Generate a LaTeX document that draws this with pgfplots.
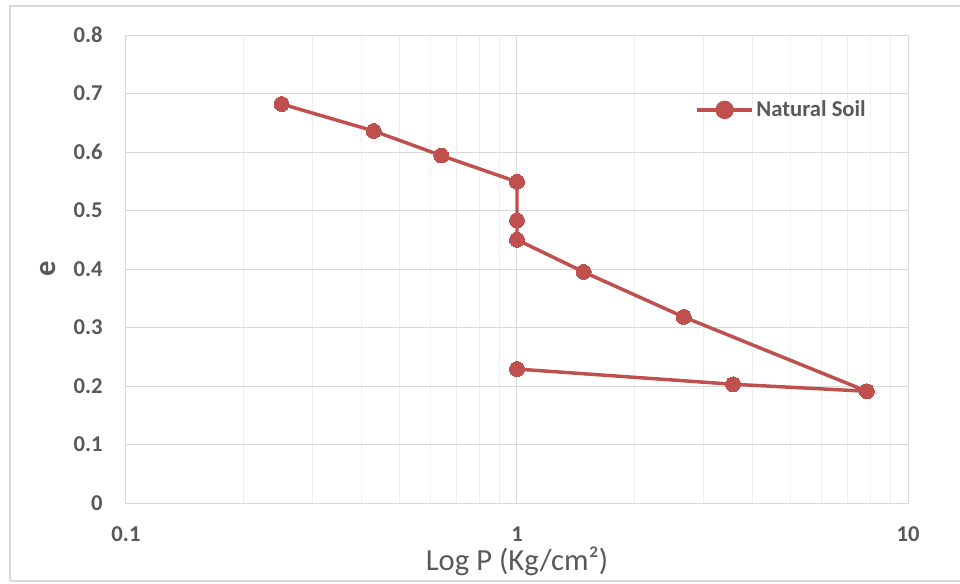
\documentclass[border=0pt]{standalone}
\usepackage{pgfplots}
\pgfplotsset{compat=1.18}
\usepackage{fontspec}
\setmainfont{Carlito}
\definecolor{serred}{HTML}{C0504D}
\definecolor{txtgray}{HTML}{595959}
\definecolor{gridmaj}{HTML}{D9D9D9}
\definecolor{gridmin}{HTML}{EFEFEF}
\begin{document}
\begin{tikzpicture}
\path[use as bounding box] (-94.5pt,-60pt) rectangle (625.5pt,377.25pt);
\draw[gridmaj, line width=1.5pt] (-87pt,-58.5pt) -- (-87pt,372.75pt) -- (630pt,372.75pt);
\draw[gridmaj, line width=1.5pt] (-87pt,-58.5pt) -- (630pt,-58.5pt);
\begin{axis}[
  at={(0,0)}, anchor=south west,
  scale only axis, width=586.5pt, height=351pt,
  xmode=log, xmin=0.1, xmax=10, ymin=0, ymax=0.8,
  xtick={0.1,1,10}, xticklabels={0.1,1,10},
  ytick={0,0.1,0.2,0.3,0.4,0.5,0.6,0.7,0.8},
  yticklabels={0,0.1,0.2,0.3,0.4,0.5,0.6,0.7,0.8},
  minor xtick={0.2,0.3,0.4,0.5,0.6,0.7,0.8,0.9,2,3,4,5,6,7,8,9},
  major tick length=0pt, minor tick length=0pt,
  xmajorgrids=true, ymajorgrids=true, xminorgrids=true,
  major grid style={gridmaj, line width=0.75pt},
  minor grid style={gridmin, line width=0.75pt},
  axis line style={gridmaj, line width=0.75pt},
  tick label style={font=\fontsize{17}{17}\selectfont\bfseries, text=txtgray, inner sep=0pt},
  xticklabel style={anchor=center, yshift=-23pt},
  yticklabel style={anchor=east, xshift=-17.25pt},
  xlabel={Log P (Kg/cm²)},
  xlabel style={at={(axis description cs:0.5,-0.125)}, anchor=center, font=\fontsize{23}{23}\selectfont, text=txtgray, inner sep=0pt},
  ylabel={e},
  ylabel style={at={(axis description cs:-0.0997,0.5)}, anchor=center, font=\fontsize{23}{23}\selectfont\bfseries, text=txtgray, inner sep=0pt},
  legend style={at={(rel axis cs:0.728,0.84)}, anchor=west, draw=none, fill=none, font=\fontsize{17}{17}\selectfont\bfseries, text=txtgray, inner sep=0pt},
  legend cell align=left,
  legend image code/.code={\draw[serred, line width=2.6pt] (0pt,0pt) -- (41pt,0pt); \fill[serred] (20.5pt,0pt) circle (5.6pt);},
]
\addplot[serred, line width=2.6pt, mark=*, mark size=5.6pt, mark options={fill=serred, draw=serred, line width=0pt}] coordinates {
(0.25,0.682) (0.43,0.636) (0.64,0.594) (1,0.549) (1,0.483) (1,0.450) (1.48,0.395) (2.67,0.318) (7.85,0.191) (3.57,0.203) (1,0.229)
};
\addlegendentry{Natural Soil}
\end{axis}
\end{tikzpicture}
\end{document}
